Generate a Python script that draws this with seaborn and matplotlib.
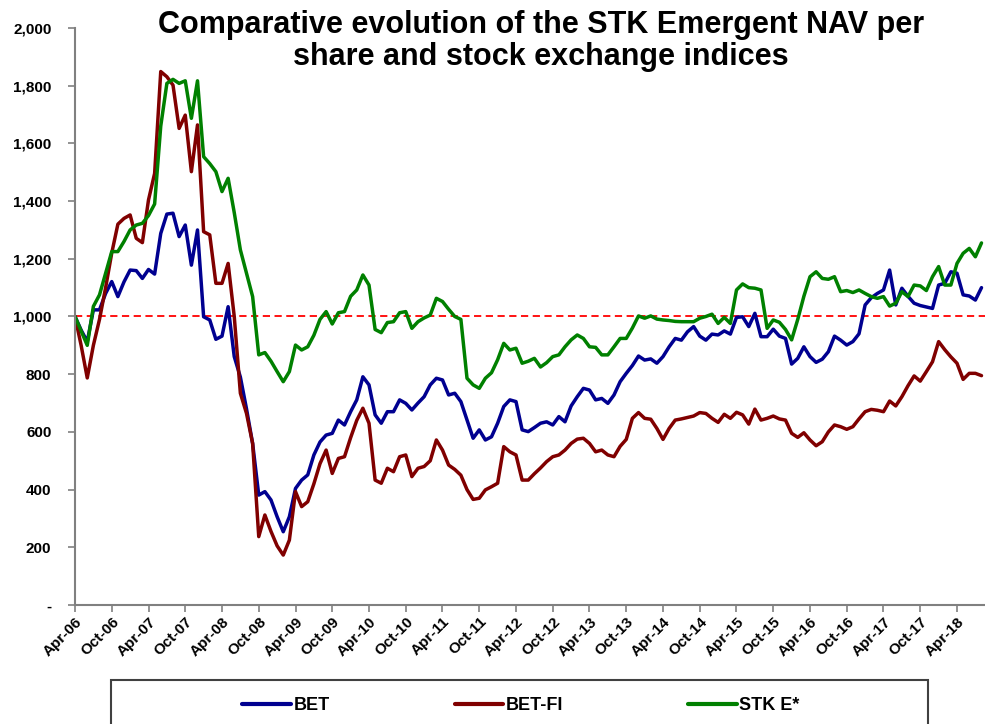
import pandas as pd
import numpy as np
import matplotlib
matplotlib.use("Agg")
import matplotlib.pyplot as plt
import matplotlib.patches as patches
import seaborn as sns

# monthly values, Apr-06 .. Aug-18 (base 1000)
bet = [1000, 953, 913, 1023, 1023, 1080, 1121, 1069, 1120, 1161,
       1159, 1132, 1163, 1147, 1288, 1355, 1358, 1277, 1317, 1178,
       1300, 999, 988, 921, 932, 1034, 861, 790, 680, 560,
       381, 393, 364, 306, 254, 306, 404, 433, 451, 520,
       565, 589, 595, 641, 624, 670, 711, 791, 763, 659,
       630, 670, 670, 711, 699, 676, 700, 722, 763, 786,
       780, 728, 734, 705, 641, 578, 607, 572, 583, 630,
       688, 711, 705, 607, 601, 615, 630, 635, 624, 653,
       635, 690, 722, 751, 745, 711, 716, 699, 728, 774,
       803, 830, 863, 849, 853, 838, 861, 895, 924, 918,
       947, 965, 932, 918, 939, 936, 950, 939, 997, 999,
       965, 1011, 930, 930, 956, 932, 924, 835, 855, 895,
       861, 841, 852, 878, 932, 918, 901, 913, 940, 1040,
       1065, 1080, 1092, 1161, 1040, 1098, 1070, 1046, 1038, 1033,
       1028, 1109, 1115, 1155, 1150, 1075, 1071, 1057, 1100]

bet_fi = [1000, 900, 787, 900, 990, 1100, 1220, 1320, 1340, 1352,
          1271, 1256, 1404, 1496, 1849, 1831, 1802, 1652, 1698, 1502,
          1664, 1294, 1283, 1115, 1115, 1184, 1000, 734, 664, 560,
          237, 312, 255, 205, 173, 225, 393, 341, 358, 420,
          490, 537, 456, 508, 514, 580, 640, 682, 630, 433,
          422, 474, 462, 514, 520, 445, 474, 480, 500, 572,
          537, 485, 470, 450, 400, 366, 370, 399, 410, 422,
          549, 531, 520, 433, 433, 455, 475, 497, 514, 520,
          537, 560, 575, 578, 560, 531, 537, 520, 514, 550,
          574, 647, 667, 647, 644, 612, 574, 612, 641, 645,
          650, 655, 667, 664, 647, 633, 661, 647, 668, 659,
          627, 679, 641, 647, 655, 645, 641, 595, 581, 597,
          572, 552, 566, 600, 624, 618, 609, 618, 645, 670,
          678, 675, 670, 707, 690, 722, 760, 794, 776, 809,
          843, 913, 885, 860, 838, 782, 803, 803, 795]

stk_e = [1000, 950, 900, 1035, 1075, 1150, 1225, 1225, 1260, 1300,
         1317, 1323, 1350, 1390, 1660, 1808, 1822, 1808, 1817, 1687,
         1817, 1554, 1530, 1502, 1433, 1479, 1360, 1231, 1150, 1069,
         867, 875, 845, 809, 774, 809, 901, 884, 895, 935,
         990, 1017, 974, 1013, 1017, 1070, 1092, 1144, 1109, 955,
         944, 979, 982, 1013, 1017, 959, 982, 995, 1005, 1063,
         1052, 1025, 1000, 990, 786, 763, 751, 786, 805, 850,
         907, 884, 890, 838, 845, 855, 825, 840, 861, 867,
         895, 919, 936, 924, 895, 893, 867, 867, 895, 924,
         924, 960, 1002, 994, 1002, 991, 988, 986, 983, 982,
         982, 982, 994, 1000, 1008, 976, 997, 976, 1092, 1113,
         1100, 1098, 1092, 959, 988, 980, 955, 919, 990, 1070,
         1138, 1155, 1132, 1129, 1138, 1086, 1090, 1083, 1092, 1080,
         1069, 1063, 1069, 1036, 1046, 1086, 1069, 1109, 1106, 1090,
         1138, 1173, 1109, 1109, 1184, 1219, 1236, 1207, 1255]

series_names = ["BET", "BET-FI", "STK E*"]
series_colors = ["#000090", "#800000", "#008000"]

x_tick_labels = ["Apr-06", "Oct-06", "Apr-07", "Oct-07", "Apr-08", "Oct-08",
                 "Apr-09", "Oct-09", "Apr-10", "Oct-10", "Apr-11", "Oct-11",
                 "Apr-12", "Oct-12", "Apr-13", "Oct-13", "Apr-14", "Oct-14",
                 "Apr-15", "Oct-15", "Apr-16", "Oct-16", "Apr-17", "Oct-17",
                 "Apr-18"]
y_ticks = [0, 200, 400, 600, 800, 1000, 1200, 1400, 1600, 1800, 2000]
y_tick_labels = ["-", "200", "400", "600", "800", "1,000", "1,200",
                 "1,400", "1,600", "1,800", "2,000"]

months = np.arange(len(bet))
df = pd.concat([
    pd.DataFrame({"month": months, "value": bet, "series": "BET"}),
    pd.DataFrame({"month": months, "value": bet_fi, "series": "BET-FI"}),
    pd.DataFrame({"month": months, "value": stk_e, "series": "STK E*"}),
])

sns.set_style("white")
plt.rcParams["font.family"] = ["Liberation Sans", "DejaVu Sans"]
plt.rcParams["text.color"] = "black"
plt.rcParams["xtick.color"] = "black"
plt.rcParams["ytick.color"] = "black"

fig = plt.figure(figsize=(9.85, 7.24), dpi=100)
ax = fig.add_axes([75 / 985, 1 - 605 / 724, 910 / 985, 577 / 724])

sns.lineplot(data=df, x="month", y="value", hue="series",
             hue_order=series_names, palette=series_colors,
             linewidth=2.5, ax=ax, legend=False)

ax.axhline(1000, color="#ff0000", lw=1.3, ls=(0, (4, 2.5)), zorder=1)

ax.set_xlim(0, 910 / 6.125)
ax.set_ylim(0, 2000)
ax.set_xticks(np.arange(0, 6 * len(x_tick_labels), 6))
ax.set_xticklabels(x_tick_labels, rotation=45, ha="right",
                   rotation_mode="anchor", fontsize=11, fontweight="bold")
ax.set_yticks(y_ticks)
ax.set_yticklabels(y_tick_labels, fontsize=11, fontweight="bold")
ax.set_xlabel("")
ax.set_ylabel("")

for s in ["top", "right"]:
    ax.spines[s].set_visible(False)
for s in ["left", "bottom"]:
    ax.spines[s].set_color("#808080")
    ax.spines[s].set_linewidth(1.5)
ax.tick_params(axis="both", direction="out", length=5, width=1.2,
               color="#808080", labelcolor="black", bottom=True, left=True)
ax.tick_params(axis="y", pad=12)
ax.tick_params(axis="x", pad=2)

fig.text(541 / 985, 1 - 41 / 724,
         "Comparative evolution of the STK Emergent NAV per\nshare and stock exchange indices",
         ha="center", va="center", fontsize=22, fontweight="bold",
         linespacing=1.1, color="black")

# legend box (runs off the bottom edge in the original)
fig.patches.append(patches.Rectangle((111 / 985, -0.05), 817 / 985,
                                     0.05 + 44 / 724, transform=fig.transFigure,
                                     fill=False, edgecolor="#404040", lw=1.5))
handles = [plt.Line2D([], [], color=c, lw=3) for c in series_colors]
fig.legend(handles, series_names, loc="center left",
           bbox_to_anchor=(226 / 985, 1 - 706 / 724), ncol=3, frameon=False,
           handlelength=2.7, handletextpad=0.15, columnspacing=6.9,
           prop={"weight": "bold", "size": 13})

fig.savefig("out.png", dpi=100)
